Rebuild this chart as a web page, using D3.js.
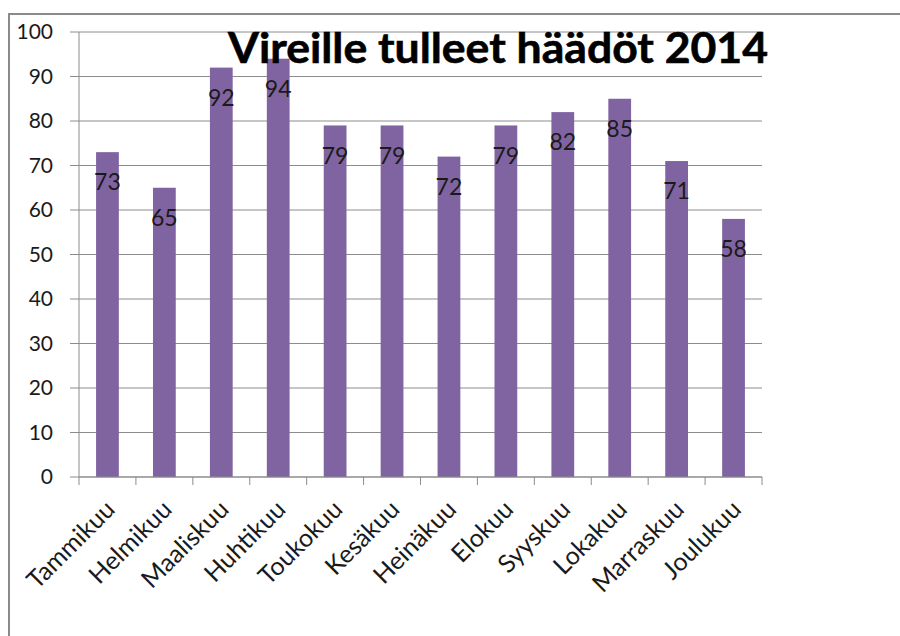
<!DOCTYPE html>
<html lang="fi">
<head>
<meta charset="utf-8">
<title>Vireille tulleet häädöt 2014</title>
<script src="https://d3js.org/d3.v7.min.js"></script>
<style>
  body { margin: 0; background: #fff; }
  svg { display: block; font-family: Lato, "Liberation Sans", sans-serif; }
</style>
</head>
<body>
<div id="chart"></div>
<script>
// data
const months = ["Tammikuu", "Helmikuu", "Maaliskuu", "Huhtikuu", "Toukokuu", "Kesäkuu",
                "Heinäkuu", "Elokuu", "Syyskuu", "Lokakuu", "Marraskuu", "Joulukuu"];
const evictions = [73, 65, 92, 94, 79, 79, 72, 79, 82, 85, 71, 58];
const yTicks = [0, 10, 20, 30, 40, 50, 60, 70, 80, 90, 100];
const title = "Vireille tulleet häädöt 2014";

const W = 900, H = 636;
const margin = {top: 32, right: 138, bottom: 159, left: 79};
const width = W - margin.left - margin.right,
      height = H - margin.top - margin.bottom;

const svg = d3.select("#chart").append("svg")
    .attr("width", W).attr("height", H);

// outer frame of the chart object (runs off the right and bottom)
svg.append("rect")
    .attr("x", 9).attr("y", 14)
    .attr("width", 1000).attr("height", 1000)
    .attr("fill", "none").attr("stroke", "#8a8a8a").attr("stroke-width", 2);

const g = svg.append("g")
    .attr("transform", `translate(${margin.left},${margin.top})`);

const x = d3.scaleBand().domain(months).range([0, width]).paddingInner(0.6).paddingOuter(0.3);
const xCat = d3.scaleBand().domain(months).range([0, width]);
const y = d3.scaleLinear().domain([0, 100]).range([height, 0]);

// horizontal gridlines with left tick stubs
g.append("g")
  .selectAll("line")
  .data(yTicks)
  .join("line")
    .attr("x1", -9).attr("x2", width)
    .attr("y1", d => y(d)).attr("y2", d => y(d))
    .attr("stroke", "#8c8c8c").attr("stroke-width", 1);

// y tick labels
g.append("g")
  .selectAll("text")
  .data(yTicks)
  .join("text")
    .attr("x", -26).attr("y", d => y(d))
    .attr("dy", "0.35em")
    .attr("text-anchor", "end")
    .attr("font-size", 21)
    .attr("fill", "#1a1a1a")
    .text(d => d);

// y axis line
g.append("line")
    .attr("x1", 0).attr("x2", 0).attr("y1", 0).attr("y2", height)
    .attr("stroke", "#8c8c8c");

// bars
g.append("g")
  .selectAll("rect")
  .data(evictions)
  .join("rect")
    .attr("x", (d, i) => x(months[i]))
    .attr("y", d => y(d))
    .attr("width", x.bandwidth())
    .attr("height", d => height - y(d))
    .attr("fill", "#8064a2");

// x axis line + tick marks at category boundaries
g.append("line")
    .attr("x1", 0).attr("x2", width).attr("y1", height).attr("y2", height)
    .attr("stroke", "#8c8c8c");
g.append("g")
  .selectAll("line")
  .data(months.concat(["end"]))
  .join("line")
    .attr("x1", (d, i) => i * xCat.step()).attr("x2", (d, i) => i * xCat.step())
    .attr("y1", height).attr("y2", height + 8)
    .attr("stroke", "#8c8c8c");

// x labels, rotated
g.append("g")
  .selectAll("text")
  .data(months)
  .join("text")
    .attr("transform", d => `translate(${xCat(d) + xCat.bandwidth() / 2 + 9},${height + 34}) rotate(-45)`)
    .attr("text-anchor", "end")
    .attr("font-size", 25)
    .attr("fill", "#1a1a1a")
    .text(d => d);

// title on top of the plot
g.append("text")
    .attr("x", 149).attr("y", 31)
    .attr("font-size", 42)
    .attr("font-weight", "bold")
    .attr("textLength", 540)
    .attr("lengthAdjust", "spacingAndGlyphs")
    .attr("fill", "#000")
    .attr("stroke", "#000").attr("stroke-width", 0.6)
    .text(title);

// data labels inside the bar tops
g.append("g")
  .selectAll("text")
  .data(evictions)
  .join("text")
    .attr("x", (d, i) => x(months[i]) + x.bandwidth() / 2)
    .attr("y", d => y(d) + 30)
    .attr("dy", "0.35em")
    .attr("text-anchor", "middle")
    .attr("font-size", 23)
    .attr("fill", "#1a1a1a")
    .text(d => d);
</script>
</body>
</html>
